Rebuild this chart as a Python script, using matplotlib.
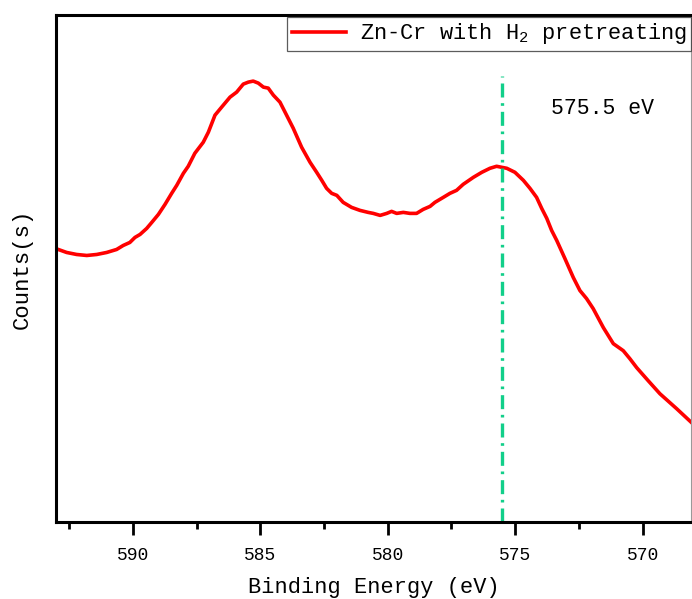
import numpy as np
import matplotlib.pyplot as plt
from matplotlib.ticker import MultipleLocator

plt.rcParams['font.family'] = ['Liberation Mono', 'DejaVu Sans']

# spectrum (binding energy in eV, intensity in arbitrary counts)
energy = [592.93, 592.6, 592.21, 591.81, 591.42, 591.03, 590.64, 590.38, 590.12, 589.92,
          589.72, 589.46, 589.26, 589.0, 588.74, 588.48, 588.28, 588.02, 587.83, 587.57,
          587.24, 587.04, 586.78, 586.52, 586.19, 585.93, 585.67, 585.47, 585.28, 585.08,
          584.88, 584.69, 584.49, 584.23, 583.97, 583.71, 583.38, 583.05, 582.79, 582.59,
          582.4, 582.2, 582.0, 581.75, 581.42, 581.09, 580.77, 580.57, 580.3, 580.04,
          579.85, 579.65, 579.39, 579.13, 578.87, 578.61, 578.34, 578.15, 577.82, 577.56,
          577.3, 577.04, 576.64, 576.31, 575.99, 575.73, 575.33, 575.01, 574.68, 574.42,
          574.16, 573.96, 573.76, 573.57, 573.37, 573.05, 572.72, 572.46, 572.2, 571.94,
          571.54, 571.15, 570.76, 570.5, 570.23, 569.78, 569.32, 568.66, 568.07]
counts = [272, 269, 267, 266, 267, 269, 272, 276, 279, 284,
          287, 293, 299, 307, 317, 328, 336, 348, 355, 368,
          379, 389, 406, 414, 424, 429, 437, 439, 440, 438,
          434, 433, 426, 419, 406, 393, 374, 359, 349, 341,
          333, 328, 326, 319, 314, 311, 309, 308, 306, 308,
          310, 308, 309, 308, 308, 312, 315, 319, 324, 328,
          331, 337, 344, 349, 353, 355, 353, 349, 341, 333,
          324, 313, 303, 291, 281, 263, 244, 231, 223, 213,
          194, 178, 171, 163, 154, 141, 128, 113, 99]

peak_pos = 575.5
peak_top = 445
label = r'Zn-Cr with H$_\mathregular{2}$ pretreating'

fig = plt.figure(figsize=(6.92, 5.99), dpi=100)
ax = fig.add_axes([0.0816, 0.1285, 0.917, 0.8465])

ax.plot(energy, counts, color='red', lw=2.6, label=label)
ax.plot([peak_pos, peak_pos], [0, peak_top], color='#12CF8A', lw=2.4,
        dashes=(4.2, 1.8, 0.8, 1.7), dash_capstyle='butt')
ax.text(573.6, 413, '575.5 eV', fontsize=15.5, ha='left', va='center')

ax.set_xlim(593.0, 568.1)
ax.set_ylim(0, 506)
ax.xaxis.set_major_locator(MultipleLocator(5))
ax.xaxis.set_minor_locator(MultipleLocator(2.5))
ax.set_yticks([])
ax.tick_params(axis='x', which='major', direction='out', length=9, width=2,
               labelsize=13, pad=9)
ax.tick_params(axis='x', which='minor', direction='out', length=5, width=2)

for side in ['left', 'top', 'bottom']:
    ax.spines[side].set_linewidth(2.2)
ax.spines['right'].set_linewidth(0.8)
ax.spines['right'].set_color('#999999')

ax.set_xlabel('Binding Energy (eV)', fontsize=15.8, labelpad=9)
ax.set_ylabel('Counts(s)', fontsize=16, labelpad=17)

leg = ax.legend(loc='upper right', bbox_to_anchor=(1.0, 0.996), borderaxespad=0,
                fontsize=15.8, frameon=True, fancybox=False, handlelength=2.5,
                handletextpad=0.6, borderpad=0.2)
leg.get_frame().set_edgecolor('#333333')
leg.get_frame().set_linewidth(0.9)

fig.savefig('out.png', dpi=100)
